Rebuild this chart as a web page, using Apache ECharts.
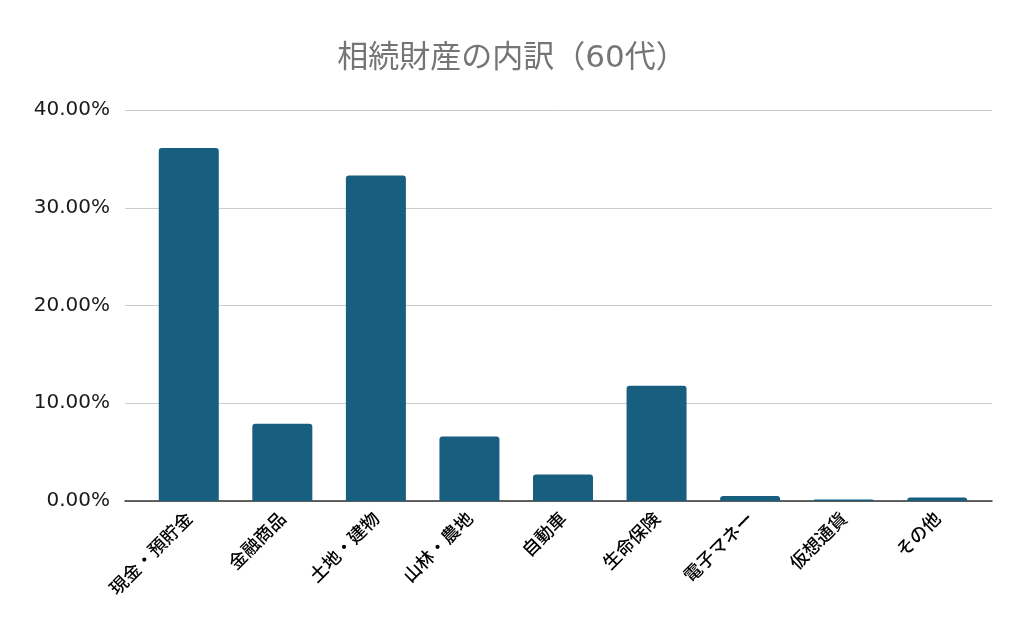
<!DOCTYPE html>
<html>
<head>
<meta charset="utf-8">
<script src="https://cdn.jsdelivr.net/npm/echarts@6/dist/echarts.min.js"></script>
<style>html,body{margin:0;padding:0;background:#fff;}#c{width:1024px;height:633px;}</style>
</head>
<body>
<div id="c"></div>
<script>
const titleText = '相続財産の内訳（60代）';
const categories = ['現金・預貯金', '金融商品', '土地・建物', '山林・農地', '自動車', '生命保険', '電子マネー', '仮想通貨', 'その他'];
const values = [36.1, 7.9, 33.3, 6.6, 2.7, 11.8, 0.5, 0.15, 0.35];
const yTicks = [0, 10, 20, 30, 40];

const chart = echarts.init(document.getElementById('c'));
chart.setOption({
  animation: false,
  backgroundColor: '#ffffff',
  title: {
    text: titleText,
    left: 'center',
    top: 38,
    textStyle: { fontFamily: 'DejaVu Sans, Noto Sans CJK JP', fontSize: 31, fontWeight: 'normal', color: '#757575' }
  },
  grid: [
    { left: 125, right: 32, top: 110, bottom: 132 },
    { left: 142, right: 40, top: 110, bottom: 132 }
  ],
  xAxis: [
    { type: 'category', gridIndex: 0, data: categories,
      axisLine: { show: true, lineStyle: { color: '#333333', width: 1.5 } },
      axisTick: { show: false }, axisLabel: { show: false }, splitLine: { show: false } },
    { type: 'category', gridIndex: 1, data: categories,
      axisLine: { show: false }, axisTick: { show: false },
      axisLabel: { rotate: 45, margin: 14, interval: 0, color: '#000000', fontSize: 18, fontWeight: 500, fontFamily: 'Noto Sans CJK JP' } }
  ],
  yAxis: [
    { type: 'value', gridIndex: 0, min: yTicks[0], max: yTicks[yTicks.length - 1], interval: 10,
      axisLine: { show: false }, axisTick: { show: false },
      axisLabel: { margin: 15, color: '#1a1a1a', fontSize: 20, fontFamily: 'DejaVu Sans', formatter: v => v.toFixed(2) + '%' },
      splitLine: { lineStyle: { color: '#cccccc', width: 1 } } },
    { type: 'value', gridIndex: 1, min: yTicks[0], max: yTicks[yTicks.length - 1], interval: 10,
      show: false, splitLine: { show: false } }
  ],
  series: [{
    type: 'bar',
    xAxisIndex: 1, yAxisIndex: 1,
    data: values,
    barWidth: 60,
    itemStyle: { color: '#175e7f', borderRadius: [3, 3, 0, 0] },
    z: 3
  }]
});
</script>
</body>
</html>
